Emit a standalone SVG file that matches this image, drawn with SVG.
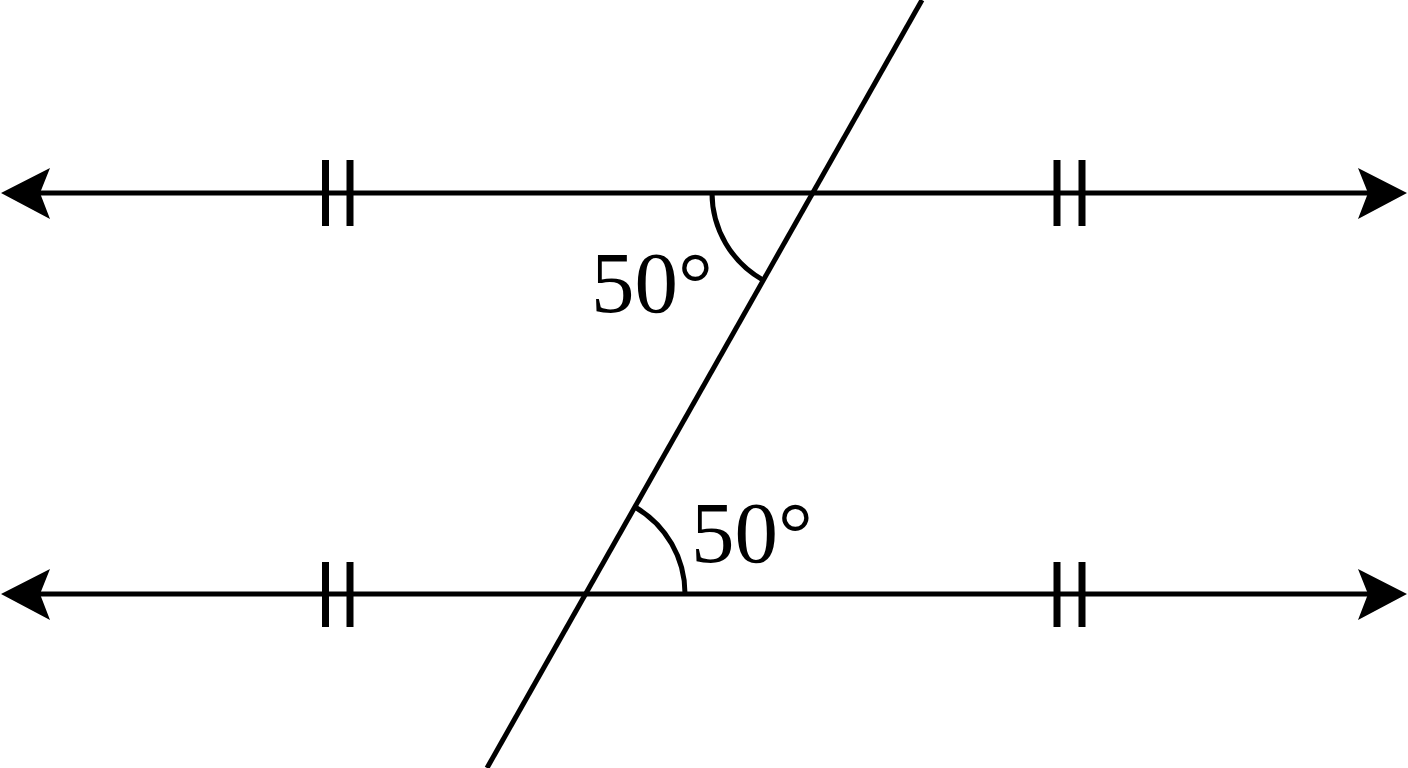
<svg xmlns="http://www.w3.org/2000/svg" width="1408" height="768" viewBox="0 0 1408 768">
<defs>
<style>
.ln{stroke:#000;stroke-width:5;fill:none}
.tk{stroke:#000;stroke-width:7;fill:none}
.ar{fill:#000}
.lb{font-family:"Liberation Serif","Times New Roman",serif;font-size:87px;fill:#000}
</style>
</defs>
<rect width="1408" height="768" fill="#fff"/>
<g id="connectors">
<line class="ln" x1="30" y1="193" x2="1378" y2="193"/>
<line class="ln" x1="30" y1="594" x2="1378" y2="594"/>
<line class="ln" x1="922" y1="0" x2="487" y2="768"/>
</g>
<g id="arrowheads">
<polygon class="ar" points="1,193 50,168 40,193 50,219"/>
<polygon class="ar" points="1407,193 1358,168 1368,193 1358,219"/>
<polygon class="ar" points="1,594 50,569 40,594 50,620"/>
<polygon class="ar" points="1407,594 1358,569 1368,594 1358,620"/>
</g>
<g id="ticks">
<line class="tk" x1="325.5" y1="160" x2="325.5" y2="226"/>
<line class="tk" x1="350" y1="160" x2="350" y2="226"/>
<line class="tk" x1="1057" y1="160" x2="1057" y2="226"/>
<line class="tk" x1="1082" y1="160" x2="1082" y2="226"/>
<line class="tk" x1="325.5" y1="562" x2="325.5" y2="627"/>
<line class="tk" x1="350" y1="562" x2="350" y2="627"/>
<line class="tk" x1="1057" y1="562" x2="1057" y2="627"/>
<line class="tk" x1="1082" y1="562" x2="1082" y2="627"/>
</g>
<g id="angle-top">
<path class="ln" d="M712,193 A100,100 0 0 0 763,280"/>
<text class="lb" x="591" y="312">50°</text>
</g>
<g id="angle-bottom">
<path class="ln" d="M685,594 A100,100 0 0 0 635,507"/>
<text class="lb" x="691" y="562">50°</text>
</g>
</svg>
